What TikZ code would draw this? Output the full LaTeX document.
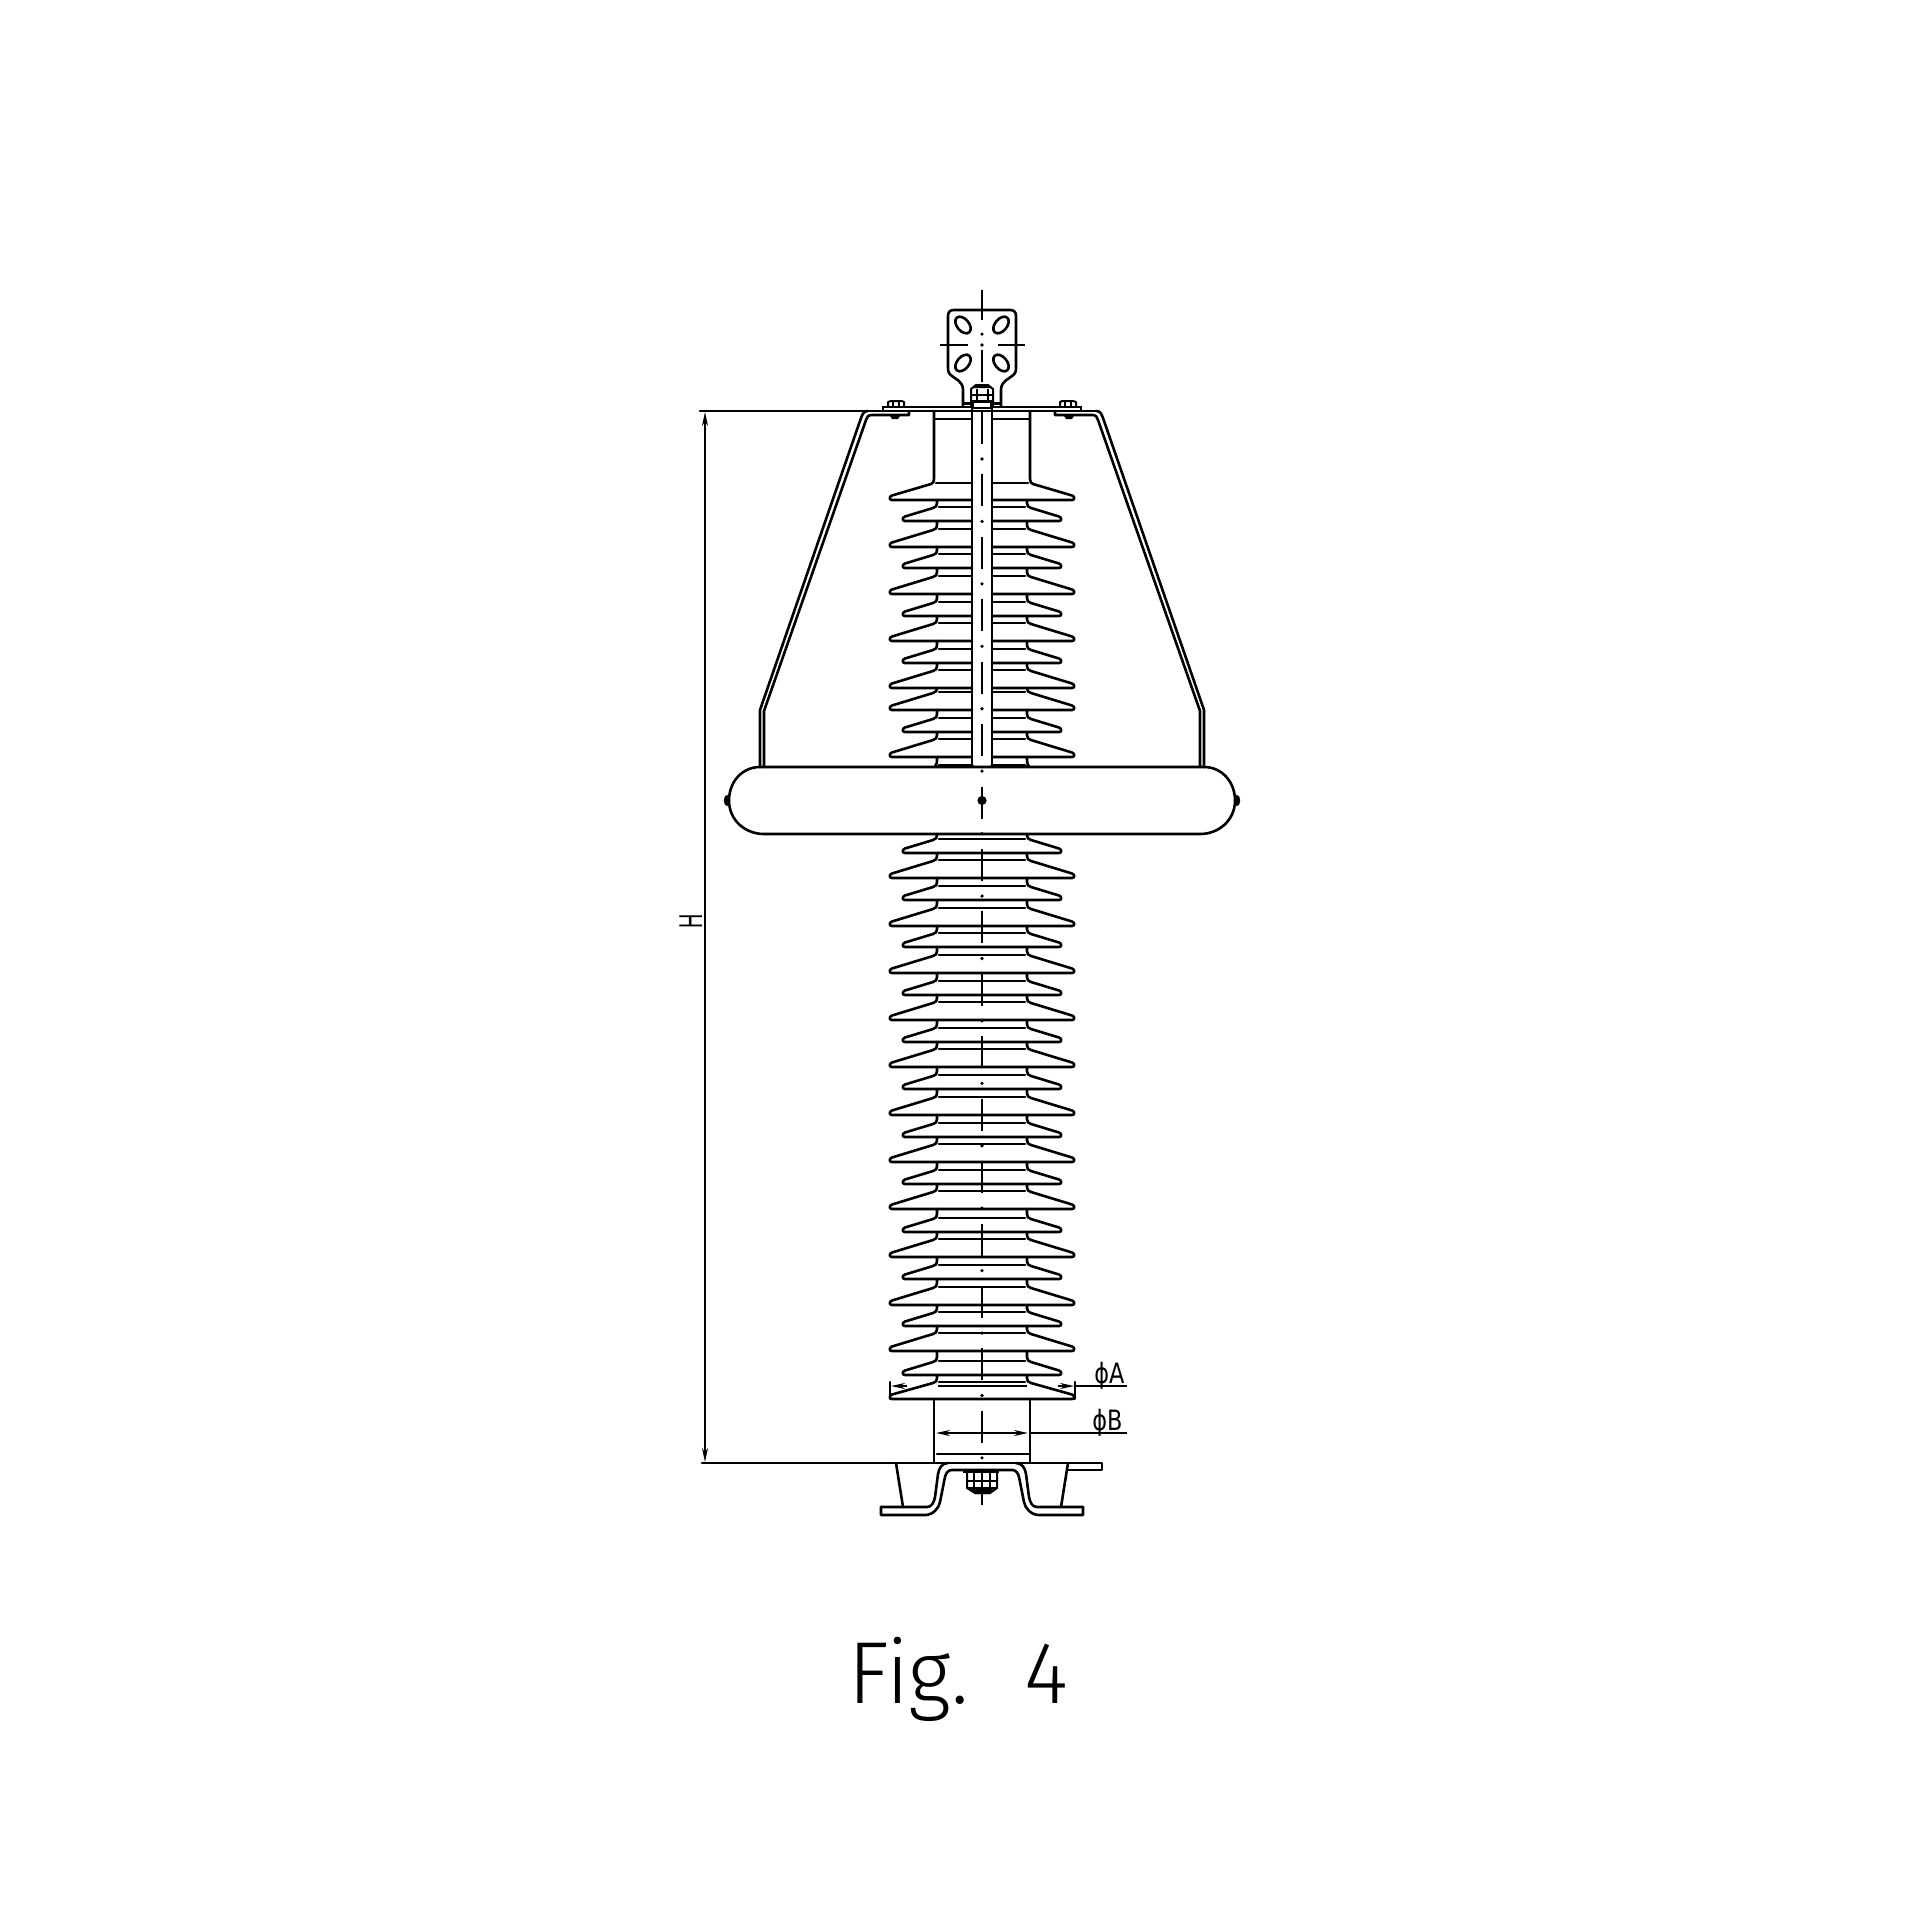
\documentclass[tikz,border=0pt]{standalone}
\usepackage{fontspec}
\usetikzlibrary{arrows.meta}
\setmainfont{Liberation Sans}
\newfontfamily\figfont{Fira Sans Light}[FakeStretch=0.96]
\newfontfamily\narrowfont{Liberation Sans}[FakeStretch=0.6]
\newfontfamily\dimfont{DejaVu Sans}[FakeStretch=0.8]
\newcommand{\shedprofile}[4]{%
  % #1 previous bottom, #2 bottom, #3 tip x, #4 inner drop
  \draw[ln] (937,#1) -- (937,{#2-#4-4}) .. controls (937,{#2-#4-1}) and (936,{#2-#4}) .. (933,{#2-#4+1})
     -- ({#3+2},{#2-4.5}) .. controls ({#3-1},{#2-3.5}) and ({#3-1},{#2}) .. ({#3+2},{#2}) -- (\xend,{#2});
  \draw[ln] (939,{#2-#4}) -- (\xend,{#2-#4});
}
\newcommand{\halfbody}{%
  \def\xend{972}
  \foreach \p/\y/\t/\d in {500/521/903/14,521/547/890/18,547/568/903/14,568/594/890/18,594/616/903/14,616/641/890/18,641/663/903/14,663/688/890/18,688/710/890/18,710/732/903/14,732/757/890/18}{\shedprofile{\p}{\y}{\t}{\d}}
  \draw[ln] (934,412) -- (934,479) .. controls (934,482) and (933,483) .. (931,484)
     -- (892,495.5) .. controls (889,496.5) and (889,500) .. (892,500) -- (972,500);
  \draw[ln] (936,483) -- (972,483);
  \draw[ln] (935,419) -- (972,419);
  \draw[ln] (937,757) .. controls (937,762) and (937,764) .. (935,767);
  \draw[ln,line width=1.8pt] (939,765.5) -- (972,765.5);
  \def\xend{982}
  \foreach \p/\y/\t/\d in {834/853/903/14,853/878/890/18,878/900/903/14,900/926/890/18,926/947/903/14,947/973/890/18,973/995/903/14,995/1020/890/18,1020/1042/903/14,1042/1067/890/18,1067/1089/903/14,1089/1115/890/18,1115/1137/903/14,1137/1162/890/18,1162/1184/903/14,1184/1209/890/18,1209/1232/903/14,1232/1257/890/18,1257/1279/903/14,1279/1305/890/18,1305/1326/903/14,1326/1351/890/18,1351/1375/903/14,1375/1399/890/17}{\shedprofile{\p}{\y}{\t}{\d}}
  % shield
  \draw[ln] (760,767) -- (760,710) -- (861,418) .. controls (863,413) and (864,411) .. (868,411);
  \draw[ln] (764,767) -- (764,711) -- (866,420) .. controls (867,417) and (868,415) .. (872,415) -- (909,415) -- (909,411);
  % ring
  \draw[ln] (982,767) -- (760,767) .. controls (742,767) and (729,782) .. (729,800.5) .. controls (729,820) and (745,834) .. (764,834) -- (982,834);
  \fill (727,800.5) ellipse [x radius=1.6pt,y radius=2.8pt];
  % bolts
  \draw[ln] (883,407) -- (883,411);
  \draw[thinln] (888,407) -- (888,402) -- (891,401) -- (902,401) -- (904,402) -- (904,407);
  \draw[thinln] (893,401) -- (893,407) (899,401) -- (899,407);
  \fill (890,416) -- (900,416) -- (898,419) -- (892,419) -- cycle;
  % collar and cylinder
  \draw[ln] (934,1399) -- (934,1463);
  % bracket
  \draw[ln] (881,1507) -- (927,1507) .. controls (932,1507) and (934,1502) .. (935,1497) -- (938,1474) .. controls (939,1468) and (942,1463) .. (948,1463);
  \draw[ln] (881,1507) -- (881,1515) -- (925,1515) .. controls (933,1515) and (939,1508) .. (940,1502) -- (945,1477) .. controls (946,1473) and (948,1470) .. (952,1470) -- (982,1470);
  \draw[ln] (896,1463) -- (903,1507);
}
\begin{document}
\begin{tikzpicture}[x=0.5pt,y=-0.5pt,
  ln/.style={line width=1.3pt,line join=round,line cap=round},
  thinln/.style={line width=1pt,line join=round},
  cl/.style={line width=1.3pt,line cap=butt},
  dimarrow/.style={line width=1pt,-{Stealth[length=7pt,width=3pt]}},
  dimboth/.style={line width=1pt,{Stealth[length=7pt,width=3pt]}-{Stealth[length=7pt,width=3pt]}}]
\useasboundingbox (0,0) rectangle (1920,1920);
\fill[white] (0,0) rectangle (1920,1920);

% mirrored halves
\halfbody
\begin{scope}[shift={(1964,0)},xscale=-1]
\halfbody
\end{scope}

% plate extension right
\draw[ln] (1068,1463) -- (1102,1463) -- (1102,1470) -- (1068,1470);

% rod
\draw[ln] (972,408) -- (972,767);
\draw[ln] (992,408) -- (992,767);

% centre line
\draw[cl] (982,290) -- (982,320);
\foreach \n in {-8,...,10}{
  \draw[cl] (982,{849+62.43*\n}) -- (982,{849+62.43*\n+32});
}
\foreach \n in {-8,...,10}{
  \fill (982,{849+62.43*\n-15.4}) circle [radius=0.9pt];
}
\fill (982,800.5) circle [radius=2.3pt];
\fill (982,345) circle [radius=0.9pt];

% terminal plate
\draw[ln] (963,406) -- (963,390) .. controls (963,381) and (955,379) .. (952,376) .. controls (949,374) and (948,372) .. (948,368)
  -- (948,316) .. controls (948,312) and (950,310) .. (954,310) -- (1010,310) .. controls (1014,310) and (1016,312) .. (1016,316)
  -- (1016,368) .. controls (1016,372) and (1015,374) .. (1012,376) .. controls (1009,379) and (1001,381) .. (1001,390) -- (1001,406);
\draw[cl] (940,345) -- (968,345) (998,345) -- (1025,345);
\foreach \cx/\cy/\a in {963/325/-50,1001/325/50,963/363/50,1001/363/-50}{
  \draw[ln] (\cx,\cy) [rotate around={\a:(\cx,\cy)}] ellipse [x radius=4.8pt,y radius=3pt];
}

% top plate
\draw[ln] (883,407) -- (1081,407);
\draw[ln] (700,411) -- (1096,411);

% top nut
\draw[thinln,fill=white] (971,406) -- (971,389) -- (976,385) -- (988,385) -- (993,389) -- (993,406) -- cycle;
\fill (976,385) -- (988,385) -- (991,388) -- (973,388) -- cycle;
\draw[thinln] (971,395) -- (993,395) (971,401) -- (993,401) (977,389) -- (977,406) (988,389) -- (988,406);
\draw[line width=1.5pt] (963,403.5) -- (1000,403.5);
\draw[thinln,fill=white] (973,402) rectangle (991,408);

% bottom flange and dims
\draw[ln] (890,1382) -- (890,1399) -- (1075,1399) -- (1075,1382);
\draw[thinln] (938,1386) -- (1027,1386);
\draw[dimarrow] (907,1386) -- (891,1386);
\draw[dimarrow] (1058,1386) -- (1074,1386);
\draw[thinln] (1075,1386) -- (1127,1386);
\draw[ln] (937,1454) -- (1030,1454);
\draw[dimboth] (936,1433) -- (1028,1433);
\draw[thinln] (1030,1433) -- (1127,1433);
\draw[ln] (702,1463) -- (1068,1463);

% bottom nut
\draw[thinln,fill=white] (967,1471) -- (967,1488) -- (975,1493) -- (990,1493) -- (997,1488) -- (997,1471) -- cycle;
\draw[line width=1.5pt] (963,1471) -- (999,1471);
\draw[thinln] (974,1471) -- (974,1490) (990,1471) -- (990,1490) (982,1471) -- (982,1504) (967,1481) -- (997,1481) (967,1488) -- (997,1488);
\fill (971,1489) -- (993,1489) -- (990,1494) -- (975,1494) -- cycle;

% H dimension
\draw[dimboth] (705,412) -- (705,1462);
\node[rotate=90,anchor=base,inner sep=0pt,font=\narrowfont\fontsize{16.5}{16.5}\selectfont] (hlabel) at (702,921.5) {H};
\node[anchor=base west,inner sep=0pt,font=\dimfont\fontsize{14}{14}\selectfont] (adim) at (1094,1383) {ϕA};
\node[anchor=base west,inner sep=0pt,font=\dimfont\fontsize{14}{14}\selectfont] (bdim) at (1092,1430) {ϕB};
\node[anchor=base west,inner sep=0pt,font=\figfont\fontsize{44}{44}\selectfont] (figlabel) at (848,1703) {Fig.\hspace{28pt}4};
\end{tikzpicture}
\end{document}
